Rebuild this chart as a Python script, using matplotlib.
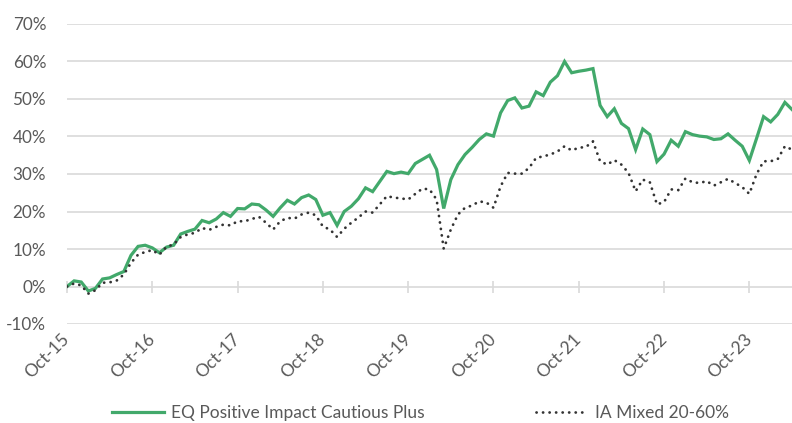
import numpy as np
import matplotlib.pyplot as plt

plt.rcParams['font.family'] = ['Lato', 'DejaVu Sans']

# monthly cumulative performance (%), Oct-15 .. Apr-24
fonds = [0.0, 1.5, 1.2, -1.2, -0.5, 2.0, 2.3, 3.2, 4.0, 8.3, 10.7, 11.0,
         10.3, 9.0, 10.5, 11.0, 14.0, 14.7, 15.3, 17.6, 17.0, 18.0, 19.7, 18.7,
         20.8, 20.7, 22.0, 21.8, 20.4, 18.7, 21.0, 23.0, 22.0, 23.7, 24.4, 23.2,
         19.0, 19.7, 16.3, 20.0, 21.4, 23.4, 26.3, 25.3, 28.0, 30.7, 30.1, 30.5,
         30.1, 32.8, 33.9, 35.0, 31.2, 20.8, 28.5, 32.5, 35.2, 37.1, 39.2, 40.7,
         40.1, 46.3, 49.6, 50.3, 47.6, 48.1, 51.9, 50.9, 54.5, 56.2, 60.0, 57.0,
         57.4, 57.7, 58.1, 48.3, 45.3, 47.4, 43.5, 42.1, 36.5, 42.0, 40.5, 33.3,
         35.3, 39.0, 37.4, 41.3, 40.5, 40.1, 39.9, 39.2, 39.4, 40.7, 39.0, 37.4,
         33.6, 39.4, 45.3, 43.9, 45.9, 49.1, 47.2]
secteur = [0.0, 0.8, 0.3, -1.9, -1.0, 1.0, 1.1, 1.6, 3.2, 6.3, 8.5, 9.2,
           9.7, 8.5, 10.6, 11.2, 13.2, 13.9, 14.3, 15.6, 15.1, 15.9, 16.5, 16.3,
           17.4, 17.4, 18.0, 18.6, 17.0, 15.2, 17.4, 18.3, 18.1, 19.2, 19.7, 19.0,
           16.0, 15.2, 13.2, 15.4, 17.0, 18.4, 20.0, 19.7, 21.9, 24.1, 23.7, 23.5,
           23.2, 24.7, 26.1, 25.9, 23.2, 10.1, 15.2, 19.2, 21.0, 21.6, 22.7, 22.4,
           21.0, 26.7, 30.3, 30.1, 30.1, 31.6, 34.3, 34.7, 35.2, 36.0, 37.4, 36.3,
           37.0, 37.2, 38.7, 33.4, 32.5, 33.7, 32.5, 30.3, 25.4, 28.5, 27.8, 21.9,
           22.5, 25.9, 25.7, 28.8, 27.8, 27.6, 28.1, 26.9, 27.8, 28.7, 27.6, 26.5,
           24.7, 29.9, 33.4, 33.4, 34.0, 37.4, 36.5]
etiquettes = ['Oct-15', 'Oct-16', 'Oct-17', 'Oct-18', 'Oct-19',
              'Oct-20', 'Oct-21', 'Oct-22', 'Oct-23']

mois = np.arange(len(fonds))
positions = np.arange(len(etiquettes)) * 12

gris = '#595959'
fig = plt.figure(figsize=(7.92, 4.23), dpi=100)
ax = fig.add_axes([67 / 792, 1 - 324 / 423, 1 - 67 / 792, 300 / 423])

ligneFonds, = ax.plot(mois, fonds, color='#42a96b', lw=2.3, solid_joinstyle='miter')
ligneSecteur, = ax.plot(mois, secteur, color='#333333', lw=2.0,
                        linestyle=(0, (0.05, 2.3)), dash_capstyle='round')

ax.set_xlim(0, len(fonds) - 1)
ax.set_ylim(-10, 70)
ax.set_yticks(np.arange(-10, 71, 10))
ax.set_yticklabels([str(v) + '%' for v in range(-10, 71, 10)])
ax.yaxis.grid(True, color='#d9d9d9', lw=1.2)
ax.set_axisbelow(True)
for s in ax.spines.values():
    s.set_visible(False)

ax.set_xticks(positions)
ax.set_xticklabels(etiquettes, rotation=45, ha='right', va='center',
                   rotation_mode='anchor')
ax.tick_params(axis='x', length=0, pad=9, labelsize=12.5, labelcolor=gris)
ax.tick_params(axis='y', length=0, pad=15, labelsize=12.3, labelcolor=gris)

# petites graduations sur la ligne du zero
axe0 = ax.secondary_xaxis(10 / 80)
axe0.set_xticks(positions)
axe0.set_xticklabels([])
axe0.tick_params(direction='inout', length=9, width=1.2, color='#d9d9d9')
axe0.spines['bottom'].set_visible(False)

fig.legend((ligneFonds, ligneSecteur),
           ('EQ Positive Impact Cautious Plus', 'IA Mixed 20-60%'),
           loc='center', bbox_to_anchor=(0.531, 0.024), ncol=2, frameon=False,
           fontsize=12.5, labelcolor=gris, handlelength=3.0, handletextpad=0.4,
           columnspacing=6.4, borderpad=0.2)

fig.savefig('out.png', dpi=100)
